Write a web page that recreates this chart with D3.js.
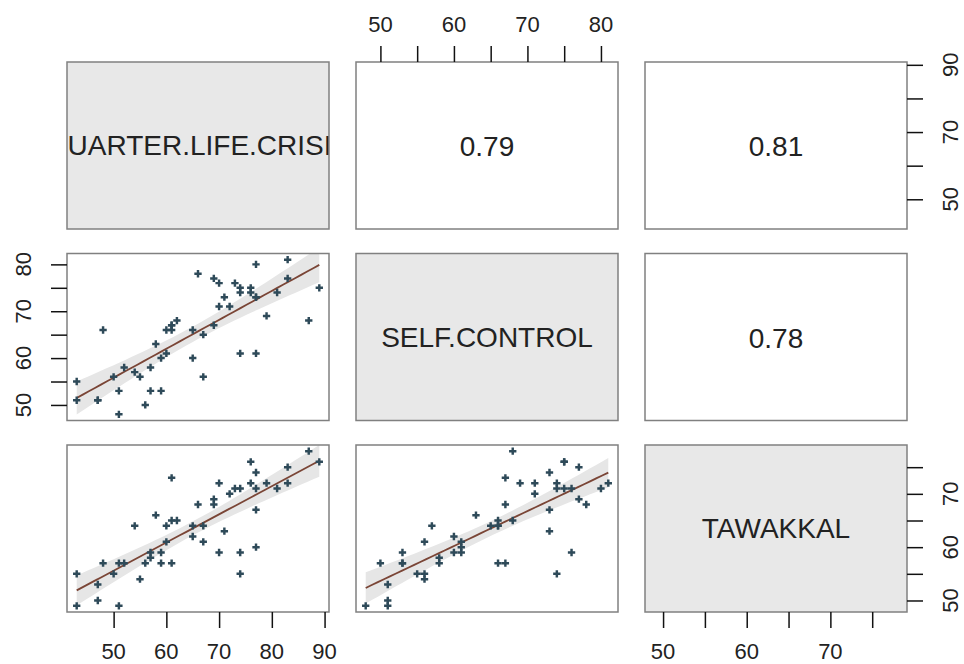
<!DOCTYPE html>
<html>
<head>
<meta charset="utf-8">
<script src="https://cdn.jsdelivr.net/npm/d3@7/dist/d3.min.js"></script>
<style>
  body { margin: 0; background: #fff; }
  svg text { font-family: "Liberation Sans", Arial, sans-serif; fill: #222; }
  .tick line { stroke: #111; stroke-width: 1.5; }
  .domain { display: none; }
</style>
</head>
<body>
<div id="chart"></div>
<script>
// variable names
var varNames = ["QUARTER.LIFE.CRISIS", "SELF.CONTROL", "TAWAKKAL"];

var qlc = [43,43,47,47,48,50,51,51,52,54,55,56,57,57,58,59,59,60,60,61,
           61,61,62,65,65,66,67,67,69,69,70,70,71,72,73,74,74,74,76,76,
           77,77,77,77,79,81,83,83,87,89];
var selfControl = [55,51,51,51,66,56,48,53,58,57,56,50,53,58,63,53,60,61,66,67,
                   66,67,68,66,60,78,65,56,77,67,76,71,73,71,76,61,74,75,75,74,
                   80,73,73,61,69,74,81,77,68,75];
var tawakkal = [55,49,53,50,57,55,49,57,57,64,54,57,59,58,66,57,59,61,64,73,
                65,57,65,64,62,68,64,61,69,68,59,72,63,70,71,59,55,71,76,72,
                71,74,67,60,72,71,72,75,78,76];

// correlations shown in the upper panels
var corLabels = [
  {row: 0, col: 1, text: "0.79"},
  {row: 0, col: 2, text: "0.81"},
  {row: 1, col: 2, text: "0.78"}
];

// tick values and labels per variable
var qlcTicks = [50, 60, 70, 80, 90];
var qlcBottomLabels = [50, 60, 70, 80, 90];
var qlcRightLabels = [50, 70, 90];
var scTicks = [50, 55, 60, 65, 70, 75, 80];
var scLabels = [50, 60, 70, 80];
var tawTicks = [50, 55, 60, 65, 70, 75];
var tawLabels = [50, 60, 70];

var data = [qlc, selfControl, tawakkal];

var W = 964, H = 664;
var colX = [67, 356, 645], panelW = 262;
var rowY = [62, 253.5, 445], panelH = 167;
var tickLen = 16;
var tickFont = "22px";
var panelFont = "28px";

var svg = d3.select("#chart").append("svg")
            .attr("width", W)
            .attr("height", H);

/***Scales, R style 4% padding***/
function padded(v) {
  var ext = d3.extent(v);
  var p = (ext[1] - ext[0]) * 0.04;
  return [ext[0] - p, ext[1] + p];
}
var xScales = data.map(function(v, i) {
  return d3.scaleLinear().domain(padded(v)).range([colX[i], colX[i] + panelW]);
});
var yScales = data.map(function(v, i) {
  return d3.scaleLinear().domain(padded(v)).range([rowY[i] + panelH, rowY[i]]);
});

var defs = svg.append("defs");

/***Panels***/
for (var r = 0; r < 3; r++) {
  for (var c = 0; c < 3; c++) {
    var g = svg.append("g");
    var id = "clip" + r + c;
    defs.append("clipPath").attr("id", id)
        .append("rect")
        .attr("x", colX[c]).attr("y", rowY[r])
        .attr("width", panelW).attr("height", panelH);

    if (r == c) {
      g.append("rect")
       .attr("x", colX[c]).attr("y", rowY[r])
       .attr("width", panelW).attr("height", panelH)
       .attr("fill", "#e8e8e8");
      g.append("text")
       .attr("clip-path", "url(#" + id + ")")
       .attr("x", colX[c] + panelW / 2)
       .attr("y", rowY[r] + panelH / 2)
       .attr("text-anchor", "middle")
       .attr("dominant-baseline", "central")
       .style("font-size", panelFont)
       .text(varNames[r]);
    } else if (r > c) {
      drawScatter(g, data[c], data[r], xScales[c], yScales[r], id);
    }

    g.append("rect")
     .attr("x", colX[c]).attr("y", rowY[r])
     .attr("width", panelW).attr("height", panelH)
     .attr("fill", "none")
     .attr("stroke", "#808080")
     .attr("stroke-width", 1.5);
  }
}

/***Correlation text***/
svg.selectAll(".cor")
   .data(corLabels)
   .enter()
   .append("text")
   .attr("class", "cor")
   .attr("x", function(d) { return colX[d.col] + panelW / 2; })
   .attr("y", function(d) { return rowY[d.row] + panelH / 2 + 1; })
   .attr("text-anchor", "middle")
   .attr("dominant-baseline", "central")
   .style("font-size", panelFont)
   .text(function(d) { return d.text; });

function drawScatter(g, xs, ys, xS, yS, clipId) {
  var n = xs.length;
  var mx = d3.mean(xs), my = d3.mean(ys);
  var sxx = d3.sum(xs, function(v) { return (v - mx) * (v - mx); });
  var sxy = d3.sum(xs, function(v, i) { return (v - mx) * (ys[i] - my); });
  var b = sxy / sxx, a = my - b * mx;
  var sse = d3.sum(xs, function(v, i) { var e = ys[i] - (a + b * v); return e * e; });
  var s = Math.sqrt(sse / (n - 2));
  var t = 2.01;
  var ext = d3.extent(xs);
  var grid = d3.range(0, 41).map(function(k) { return ext[0] + (ext[1] - ext[0]) * k / 40; });
  var band = grid.map(function(x) {
    var fit = a + b * x;
    var se = s * Math.sqrt(1 / n + (x - mx) * (x - mx) / sxx);
    return {x: x, fit: fit, lo: fit - t * se, hi: fit + t * se};
  });

  var pg = g.append("g").attr("clip-path", "url(#" + clipId + ")");

  pg.append("path")
    .datum(band)
    .attr("fill", "#e6e6e6")
    .attr("d", d3.area()
      .x(function(d) { return xS(d.x); })
      .y0(function(d) { return yS(d.lo); })
      .y1(function(d) { return yS(d.hi); }));

  pg.append("path")
    .datum(band)
    .attr("fill", "none")
    .attr("stroke", "#7a4536")
    .attr("stroke-width", 1.8)
    .attr("d", d3.line()
      .x(function(d) { return xS(d.x); })
      .y(function(d) { return yS(d.fit); }));

  pg.selectAll(".pt")
    .data(xs)
    .enter()
    .append("path")
    .attr("class", "pt")
    .attr("transform", function(d, i) {
      return "translate(" + xS(d) + "," + yS(ys[i]) + ")";
    })
    .attr("d", d3.symbol().type(d3.symbolCross).size(30))
    .attr("fill", "#2e4a59");
}

/***Axes***/
function noLabels() { return ""; }

// top axis for column 2
svg.append("g")
   .attr("transform", "translate(0," + rowY[0] + ")")
   .call(d3.axisTop(xScales[1]).tickValues(scTicks).tickSize(tickLen).tickFormat(noLabels));
svg.selectAll(".topLab")
   .data(scLabels).enter().append("text")
   .attr("x", function(d) { return xScales[1](d); })
   .attr("y", 32)
   .attr("text-anchor", "middle")
   .style("font-size", tickFont)
   .text(function(d) { return d; });

// bottom axes for columns 1 and 3
svg.append("g")
   .attr("transform", "translate(0," + (rowY[2] + panelH) + ")")
   .call(d3.axisBottom(xScales[0]).tickValues(qlcTicks).tickSize(tickLen).tickFormat(noLabels));
svg.selectAll(".botLab1")
   .data(qlcBottomLabels).enter().append("text")
   .attr("x", function(d) { return xScales[0](d); })
   .attr("y", 659)
   .attr("text-anchor", "middle")
   .style("font-size", tickFont)
   .text(function(d) { return d; });

svg.append("g")
   .attr("transform", "translate(0," + (rowY[2] + panelH) + ")")
   .call(d3.axisBottom(xScales[2]).tickValues(tawTicks).tickSize(tickLen).tickFormat(noLabels));
svg.selectAll(".botLab3")
   .data(tawLabels).enter().append("text")
   .attr("x", function(d) { return xScales[2](d); })
   .attr("y", 659)
   .attr("text-anchor", "middle")
   .style("font-size", tickFont)
   .text(function(d) { return d; });

// left axis for row 2
svg.append("g")
   .attr("transform", "translate(" + colX[0] + ",0)")
   .call(d3.axisLeft(yScales[1]).tickValues(scTicks).tickSize(tickLen).tickFormat(noLabels));
svg.selectAll(".leftLab")
   .data(scLabels).enter().append("text")
   .attr("transform", function(d) { return "translate(31," + yScales[1](d) + ") rotate(-90)"; })
   .attr("text-anchor", "middle")
   .style("font-size", tickFont)
   .text(function(d) { return d; });

// right axes for rows 1 and 3
var rightX = colX[2] + panelW;
svg.append("g")
   .attr("transform", "translate(" + rightX + ",0)")
   .call(d3.axisRight(yScales[0]).tickValues(qlcTicks).tickSize(tickLen).tickFormat(noLabels));
svg.selectAll(".rightLab1")
   .data(qlcRightLabels).enter().append("text")
   .attr("transform", function(d) { return "translate(958," + yScales[0](d) + ") rotate(-90)"; })
   .attr("text-anchor", "middle")
   .style("font-size", tickFont)
   .text(function(d) { return d; });

svg.append("g")
   .attr("transform", "translate(" + rightX + ",0)")
   .call(d3.axisRight(yScales[2]).tickValues(tawTicks).tickSize(tickLen).tickFormat(noLabels));
svg.selectAll(".rightLab3")
   .data(tawLabels).enter().append("text")
   .attr("transform", function(d) { return "translate(958," + yScales[2](d) + ") rotate(-90)"; })
   .attr("text-anchor", "middle")
   .style("font-size", tickFont)
   .text(function(d) { return d; });
</script>
</body>
</html>
